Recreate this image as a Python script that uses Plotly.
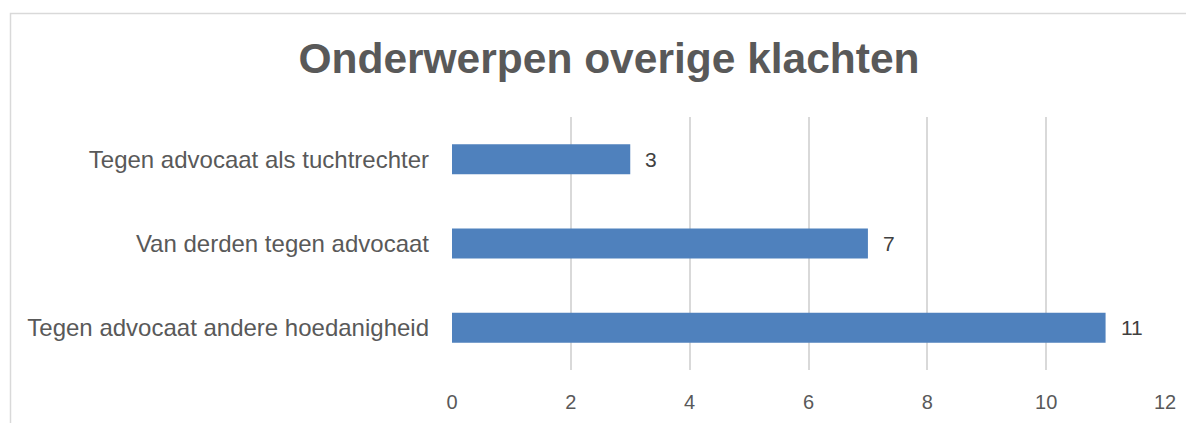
import plotly.graph_objects as go

categories = ["Tegen advocaat andere hoedanigheid", "Van derden tegen advocaat", "Tegen advocaat als tuchtrechter"]
values = [11, 7, 3]
tick_vals = [0, 2, 4, 6, 8, 10, 12]
title_text = "Onderwerpen overige klachten"

OFF = 8  # default page body margin
W, H = 1194, 423
L, R, T, B = 452 - OFF, 29 + OFF, 117 - OFF, 53 + OFF
pw, ph = W - L - R, H - T - B

fig = go.Figure()
fig.add_trace(go.Bar(
    y=categories, x=values, orientation="h",
    marker=dict(color="#4F81BD", line=dict(width=0)),
    hoverinfo="x+y",
))
for c, v in zip(categories, values):
    fig.add_annotation(x=v, y=c, text=str(v), showarrow=False, xanchor="left",
                       xshift=13, font=dict(family="Liberation Sans", size=21, color="#404040"))

def px2x(p):
    return (p - OFF - L) / pw

def py2y(p):
    return (H - B - (p - OFF)) / ph

fig.add_shape(type="rect", xref="paper", yref="paper",
              x0=px2x(10.5), x1=px2x(W + 30), y0=py2y(H + 30), y1=py2y(13.5),
              line=dict(color="#D9D9D9", width=1.5), fillcolor="rgba(0,0,0,0)", layer="below")

fig.update_layout(
    width=W, height=H,
    margin=dict(l=L, r=R, t=T, b=B, pad=0),
    paper_bgcolor="white", plot_bgcolor="white",
    showlegend=False,
    bargap=0.644,
    title=dict(text="<b>" + title_text + "</b>", x=((300 + 918) / 2 - OFF) / W, xanchor="center",
               y=1 - (58 - OFF) / H, yanchor="middle",
               font=dict(family="Liberation Sans", size=42.5, color="#595959")),
    xaxis=dict(range=[0, 12], tickvals=tick_vals, showgrid=True, gridcolor="#D9D9D9", gridwidth=1.5,
               zeroline=False, showline=False, ticks="",
               tickfont=dict(family="Liberation Sans", size=20, color="#595959"),
               ticklabelstandoff=18, fixedrange=True),
    yaxis=dict(categoryorder="array", categoryarray=categories, showgrid=False, zeroline=False,
               showline=False, ticks="", ticklabelstandoff=22,
               tickfont=dict(family="Liberation Sans", size=24, color="#595959"), fixedrange=True),
)

fig.write_html("out.html")
